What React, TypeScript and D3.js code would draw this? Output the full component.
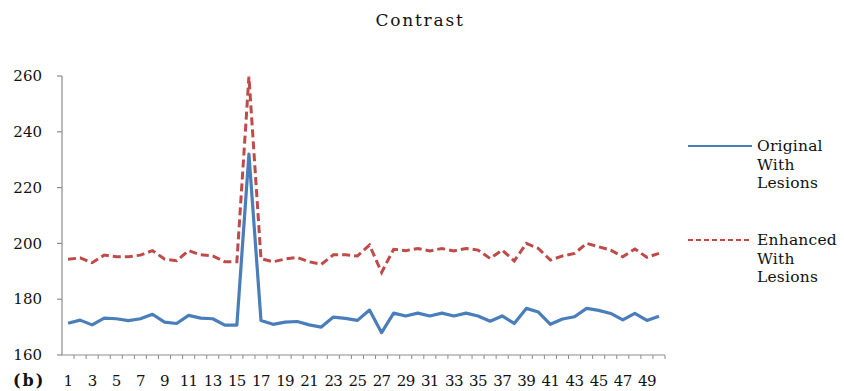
import React, { useRef, useEffect } from 'react';
import * as d3 from 'd3';

const categories = d3.range(1, 51).map(String);

const original = [
  171.4, 172.5, 170.8, 173.2, 173.0, 172.3, 173.0, 174.6, 171.8, 171.3,
  174.2, 173.2, 173.0, 170.7, 170.7, 232.0, 172.4, 171.0, 171.8, 172.0,
  170.8, 170.0, 173.6, 173.1, 172.4, 176.1, 168.0, 175.0, 174.0, 175.0,
  174.0, 175.0, 174.0, 175.0, 174.0, 172.1, 174.0, 171.3, 176.7, 175.4,
  171.0, 172.9, 173.7, 176.7, 176.0, 174.9, 172.6, 174.9, 172.4, 173.9,
];

const enhanced = [
  194.3, 194.8, 193.1, 195.8, 195.2, 195.2, 195.8, 197.4, 194.4, 193.8,
  197.4, 195.9, 195.5, 193.4, 193.4, 259.8, 194.5, 193.4, 194.4, 195.0,
  193.4, 192.5, 195.9, 195.9, 195.5, 199.4, 189.6, 197.9, 197.4, 198.2,
  197.3, 198.2, 197.3, 198.2, 197.6, 194.6, 197.6, 193.7, 200.0, 198.2,
  194.0, 195.5, 196.4, 200.0, 198.8, 197.6, 195.2, 198.0, 195.0, 196.4,
];

const yTicks = [160, 180, 200, 220, 240, 260];
const xTickLabels = categories.filter((_, i) => i % 2 === 0);

const WIDTH = 844;
const HEIGHT = 391;
const FONT = '"DejaVu Serif", serif';
const BLUE = '#4a7ebb';
const RED = '#be4b48';
const INK = '#111';

export default function App() {
  const svgRef = useRef<SVGSVGElement | null>(null);

  useEffect(() => {
    if (!svgRef.current) return;
    const svg = d3.select(svgRef.current);
    svg.selectAll('*').remove();

    const plot = { left: 62, right: 665, top: 76, bottom: 355 };

    const x = d3.scaleBand<string>()
      .domain(categories)
      .range([plot.left, plot.right]);
    const y = d3.scaleLinear()
      .domain([160, 260])
      .range([plot.bottom, plot.top]);

    svg.append('rect')
      .attr('width', WIDTH)
      .attr('height', HEIGHT)
      .attr('fill', '#fff');

    // Title
    svg.append('text')
      .attr('x', 420)
      .attr('y', 26)
      .attr('text-anchor', 'middle')
      .attr('font-family', FONT)
      .attr('font-size', '17px')
      .attr('letter-spacing', '1.8px')
      .attr('fill', INK)
      .text('Contrast');

    // Axes
    const axisColor = '#8c8c8c';
    svg.append('line')
      .attr('x1', plot.left).attr('x2', plot.left)
      .attr('y1', plot.top).attr('y2', plot.bottom)
      .attr('stroke', axisColor).attr('stroke-width', 1.2);
    svg.append('line')
      .attr('x1', plot.left).attr('x2', plot.right)
      .attr('y1', plot.bottom).attr('y2', plot.bottom)
      .attr('stroke', axisColor).attr('stroke-width', 1.2);

    // y ticks + labels
    yTicks.forEach((t) => {
      svg.append('line')
        .attr('x1', plot.left - 5).attr('x2', plot.left)
        .attr('y1', y(t)).attr('y2', y(t))
        .attr('stroke', axisColor).attr('stroke-width', 1.2);
      svg.append('text')
        .attr('x', plot.left - 20)
        .attr('y', y(t))
        .attr('dy', '0.35em')
        .attr('text-anchor', 'end')
        .attr('font-family', FONT)
        .attr('font-size', '15px')
        .attr('fill', INK)
        .text(t);
    });

    // x ticks between categories
    const bw = x.bandwidth();
    categories.forEach((c) => {
      const xs = (x(c) as number) + bw;
      svg.append('line')
        .attr('x1', xs).attr('x2', xs)
        .attr('y1', plot.bottom).attr('y2', plot.bottom + 4)
        .attr('stroke', axisColor).attr('stroke-width', 1);
    });

    xTickLabels.forEach((c) => {
      svg.append('text')
        .attr('x', (x(c) as number) + bw / 2)
        .attr('y', 386)
        .attr('text-anchor', 'middle')
        .attr('font-family', FONT)
        .attr('font-size', '15px')
        .attr('letter-spacing', '-0.6px')
        .attr('fill', INK)
        .text(c);
    });

    svg.append('text')
      .attr('x', 13)
      .attr('y', 386)
      .attr('font-family', FONT)
      .attr('font-size', '16px')
      .attr('font-weight', 'bold')
      .attr('letter-spacing', '2px')
      .attr('fill', INK)
      .text('(b)');

    const line = d3.line<number>()
      .x((_, i) => (x(categories[i]) as number) + bw / 2)
      .y((d) => y(d));

    svg.append('path')
      .datum(enhanced)
      .attr('d', line)
      .attr('fill', 'none')
      .attr('stroke', RED)
      .attr('stroke-width', 3)
      .attr('stroke-dasharray', '8,4');

    svg.append('path')
      .datum(original)
      .attr('d', line)
      .attr('fill', 'none')
      .attr('stroke', BLUE)
      .attr('stroke-width', 3.2)
      .attr('stroke-linejoin', 'round');

    // Legend
    const legend = [
      { label: ['Original', 'With', 'Lesions'], color: BLUE, dash: 'none', y: 146 },
      { label: ['Enhanced', 'With', 'Lesions'], color: RED, dash: '5,3', y: 240 },
    ];
    legend.forEach((l) => {
      svg.append('line')
        .attr('x1', 688).attr('x2', 752)
        .attr('y1', l.y).attr('y2', l.y)
        .attr('stroke', l.color)
        .attr('stroke-width', 2)
        .attr('stroke-dasharray', l.dash);
      l.label.forEach((s, i) => {
        svg.append('text')
          .attr('x', 757)
          .attr('y', l.y + i * 18.5)
          .attr('dy', '0.35em')
          .attr('font-family', FONT)
          .attr('font-size', '15.5px')
          .attr('letter-spacing', '0.2px')
          .attr('fill', INK)
          .text(s);
      });
    });
  }, []);

  return (
    <svg
      ref={svgRef}
      width={WIDTH}
      height={HEIGHT}
      style={{ position: 'absolute', left: 0, top: 0, display: 'block' }}
    />
  );
}
